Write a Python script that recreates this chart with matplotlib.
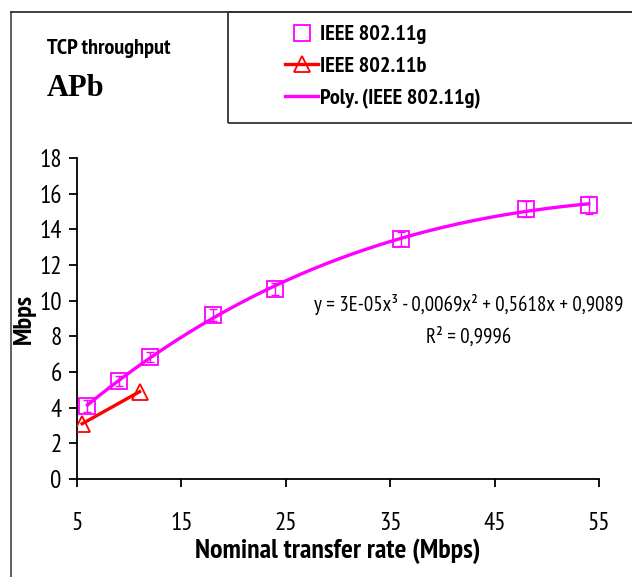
import numpy as np
import matplotlib
matplotlib.use('Agg')
import matplotlib.pyplot as plt
from matplotlib.lines import Line2D
from matplotlib.patches import Rectangle

plt.rcParams['font.family'] = ['PT Sans Narrow', 'DejaVu Sans']

# data
rate_g = [6, 9, 12, 18, 24, 36, 48, 54]
tput_g = [4.1, 5.5, 6.85, 9.2, 10.65, 13.45, 15.15, 15.35]
err_g = [0.35, 0.3, 0.3, 0.35, 0.35, 0.4, 0.45, 0.5]
rate_b = [5.5, 11]
tput_b = [3.1, 4.9]
xticks = [5, 15, 25, 35, 45, 55]
yticks = list(range(0, 20, 2))

fig = plt.figure(figsize=(6.32, 5.77), dpi=100)
ax = fig.add_axes([0.1218, 0.1698, 0.8262, 0.5564])

mag = '#ff00ff'
red = '#ff0000'

# polynomial trendline (3rd order) of the 802.11g series
coef = np.polyfit(rate_g, tput_g, 3)
xs = np.linspace(min(rate_g), max(rate_g), 200)
poly_line, = ax.plot(xs, np.polyval(coef, xs), color=mag, lw=2.4, zorder=2)

ax.errorbar(rate_g, tput_g, yerr=err_g, fmt='none', ecolor=mag, elinewidth=1.0,
            capsize=3, capthick=1.0, zorder=3)
g_pts, = ax.plot(rate_g, tput_g, ls='none', marker='s', ms=12, mfc='none',
                 mec=mag, mew=1.3, zorder=4)
b_line, = ax.plot(rate_b, tput_b, color=red, lw=2.4, marker='^', ms=12, mfc='none',
                  mec=red, mew=1.3, zorder=4)

ax.set_xlim(5, 55)
ax.set_ylim(0, 18)
ax.set_xticks(xticks)
ax.set_yticks(yticks)
ax.spines['top'].set_visible(False)
ax.spines['right'].set_visible(False)
for s in ('left', 'bottom'):
    ax.spines[s].set_linewidth(1.3)
ax.tick_params(axis='both', labelsize=18, width=1.3, length=6, direction='out')
ax.tick_params(axis='x', pad=18)
ax.tick_params(axis='y', pad=5)
ax.set_xlabel('Nominal transfer rate (Mbps)', fontsize=20, fontweight='bold', labelpad=2)
ax.set_ylabel('Mbps', fontsize=19, fontweight='bold', labelpad=2)

ax.text(0.75, 0.495, 'y = 3E-05x³ - 0,0069x² + 0,5618x + 0,9089\nR² = 0,9996',
        transform=ax.transAxes, ha='center', va='center', fontsize=15,
        linespacing=1.7)

# outer frame and legend box
fig.add_artist(Line2D([11/632, 11/632], [0, 1 - 12/577], color='#555555', lw=1.3))
fig.add_artist(Line2D([11/632, 1], [1 - 12/577, 1 - 12/577], color='#333333', lw=1.3))
fig.add_artist(Rectangle((228/632, 1 - 123/577), 0.7, 111/577, transform=fig.transFigure,
                         fill=False, ec='#333333', lw=1.3))

fig.text(47/632, 1 - 48/577, 'TCP throughput', fontsize=16, fontweight='bold',
         va='center', ha='left')
fig.text(47/632, 1 - 89/577, 'APb', fontsize=22, fontweight='bold', va='center',
         ha='left', family='Liberation Serif')

fig.legend([g_pts, b_line, poly_line],
           ['IEEE 802.11g', 'IEEE 802.11b', 'Poly. (IEEE 802.11g)'],
           loc='upper left', bbox_to_anchor=(276/632, 1 - 16/577), frameon=False,
           prop={'size': 16, 'weight': 'bold'}, handlelength=1.5, handletextpad=0.1,
           labelspacing=0.55, borderaxespad=0)

fig.savefig('out.png', dpi=100)
